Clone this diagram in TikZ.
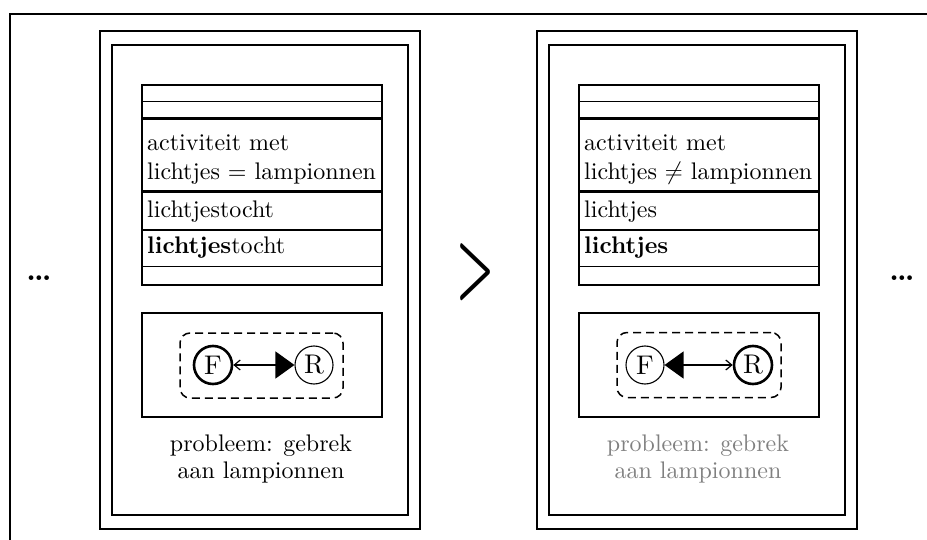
\documentclass[tikz,border=0pt]{standalone}
\usepackage{fontspec}
\setmainfont{lmroman10}[Extension=.otf, UprightFont=*-regular, BoldFont=*-bold,
  ItalicFont=*-italic, BoldItalicFont=*-bolditalic]
\usetikzlibrary{arrows.meta}
\tikzset{
  x=1pt, y=-1pt,
  txt/.style={font=\fontsize{24}{30}\selectfont, inner sep=0pt, anchor=base west},
  captiontext/.style={font=\fontsize{24}{30}\selectfont, inner sep=0pt, anchor=base},
  panelout/.style={draw, line width=1.8pt, minimum width=320pt, minimum height=498pt, inner sep=0pt},
  panelin/.style={draw, line width=2.3pt, minimum width=296pt, minimum height=470pt, inner sep=0pt},
  tablebox/.style={draw, line width=2pt, minimum width=240pt, minimum height=200pt, inner sep=0pt},
  frbox/.style={draw, line width=2pt, minimum width=240pt, minimum height=104pt, inner sep=0pt},
  groupbox/.style={draw, dash pattern=on 8pt off 5pt, line width=1.5pt, rounded corners=10pt,
    minimum width=163pt, minimum height=65pt, inner sep=0pt},
  role/.style={circle, draw, minimum size=38pt, inner sep=0pt, font=\fontsize{27}{27}\selectfont},
  strong/.style={role, line width=2.6pt},
  weak/.style={role, line width=1.1pt},
  link/.style={line width=1.2pt},
  smalltip/.tip={Straight Barb[length=6pt, width=10pt, line width=1.2pt]},
  bigtip/.tip={Triangle[length=19pt, width=27pt]},
  thinrule/.style={line width=1pt},
  midrule/.style={line width=1.4pt},
  thickrule/.style={line width=3pt},
  frame/.style={line width=1.5pt},
  dots/.style={font=\fontsize{30}{30}\selectfont\bfseries, inner sep=0pt, anchor=base},
  prefsign/.style={font=\fontsize{85}{85}\selectfont\bfseries, inner sep=0pt,
    transform shape, xscale=0.5},
}
\begin{document}
\begin{tikzpicture}
  \useasboundingbox[fill=white] (0,0) rectangle (927,540);

  % enclosing frame: top and left edges only
  \coordinate (frameTL) at (10,14);
  \coordinate (frameTR) at (927,14);
  \coordinate (frameBL) at (10,540);
  \draw[frame] (frameBL) -- (frameTL) -- (frameTR);

  % ellipses on both sides
  \node[dots] (moreL) at (39,280) {\ldots};
  \node[dots] (moreR) at (902,280) {\ldots};

  % preference sign between the two panels
  \node[prefsign] (prefer) at (475,272) {>};

  % ---------------- left panel ----------------
  \node[panelout] (outL) at (260,280) {};
  \node[panelin]  (inL)  at (260,280) {};
  \node[tablebox] (tabL) at (262,185) {};
  \draw[thinrule]  ([yshift=-17.3pt]tabL.north west)  -- ([yshift=-17.3pt]tabL.north east);
  \draw[thickrule] ([yshift=-35pt]tabL.north west)    -- ([yshift=-35pt]tabL.north east);
  \draw[thickrule] ([yshift=-107.3pt]tabL.north west) -- ([yshift=-107.3pt]tabL.north east);
  \draw[midrule]   ([yshift=-146pt]tabL.north west)   -- ([yshift=-146pt]tabL.north east);
  \draw[midrule]   ([yshift=-182.3pt]tabL.north west) -- ([yshift=-182.3pt]tabL.north east);
  \node[txt] (actL1) at (147,150.7) {activiteit met};
  \node[txt] (actL2) at (147,180) {lichtjes = lampionnen};
  \node[txt] (formL) at (147,217.3) {lichtjestocht};
  \node[txt] (focL)  at (147,254) {\textbf{lichtjes}tocht};

  \node[frbox] (frL) at (262,365) {};
  \node[groupbox] (grpL) at (261.5,365.5) {};
  \node[strong] (FL) at (213,365) {F};
  \node[weak]   (RL) at (314,365) {R};
  \draw[link, {smalltip}-{bigtip}] (FL) -- (RL);

  \node[captiontext] (capL1) at (261,451) {probleem: gebrek};
  \node[captiontext] (capL2) at (261,478) {aan lampionnen};

  % ---------------- right panel ----------------
  \node[panelout] (outR) at (697,280) {};
  \node[panelin]  (inR)  at (697,280) {};
  \node[tablebox] (tabR) at (699,185) {};
  \draw[thinrule]  ([yshift=-17.3pt]tabR.north west)  -- ([yshift=-17.3pt]tabR.north east);
  \draw[thickrule] ([yshift=-35pt]tabR.north west)    -- ([yshift=-35pt]tabR.north east);
  \draw[thickrule] ([yshift=-107.3pt]tabR.north west) -- ([yshift=-107.3pt]tabR.north east);
  \draw[midrule]   ([yshift=-146pt]tabR.north west)   -- ([yshift=-146pt]tabR.north east);
  \draw[midrule]   ([yshift=-182.3pt]tabR.north west) -- ([yshift=-182.3pt]tabR.north east);
  \node[txt] (actR1) at (584,150.7) {activiteit met};
  \node[txt] (actR2) at (584,180) {lichtjes $\neq$ lampionnen};
  \node[txt] (formR) at (584,217.3) {lichtjes};
  \node[txt] (focR)  at (584,254) {\textbf{lichtjes}};

  \node[frbox] (frR) at (699,365) {};
  \node[groupbox, minimum width=164pt] (grpR) at (699,365) {};
  \node[weak]   (FR) at (645,365) {F};
  \node[strong] (RR) at (753,365) {R};
  \draw[link, {bigtip}-{smalltip}] (FR) -- (RR);

  \node[captiontext, text=black!50] (capR1) at (698,451) {probleem: gebrek};
  \node[captiontext, text=black!50] (capR2) at (698,478) {aan lampionnen};
\end{tikzpicture}
\end{document}
